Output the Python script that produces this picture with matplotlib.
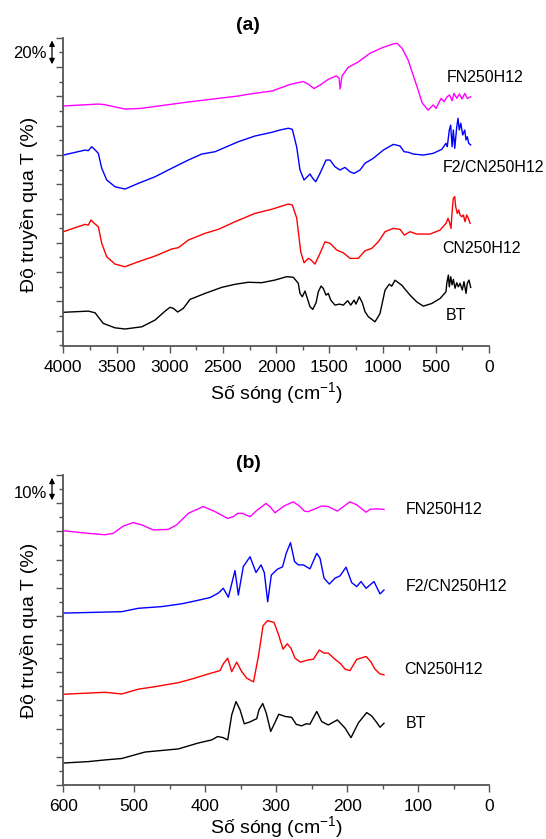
import numpy as np
import matplotlib
matplotlib.use("Agg")
import matplotlib.pyplot as plt
from matplotlib.ticker import MultipleLocator

plt.rcParams['font.family'] = ['Liberation Sans', 'DejaVu Sans']
plt.rcParams['mathtext.default'] = 'regular'

# ---- (a) FTIR, 4000-150 cm-1 (offset transmittance, arbitrary units) ----
a_fn_x = [4000, 3674, 3618, 3420, 3279, 2828, 2358, 2245, 2039, 1870, 1747, 1700, 1644, 1587,
          1512, 1437, 1409, 1399, 1381, 1324, 1230, 1118, 995, 901, 864, 817, 760, 713, 666,
          629, 572, 525, 497, 450, 422, 394, 370, 347, 329, 303, 279, 253, 228, 204, 172]
a_fn_y = [153.4, 154.7, 154.4, 151.3, 151.7, 156.1, 160.2, 161.6, 163.6, 168.1, 170.1, 168.4,
          165.3, 167.7, 171.5, 173.9, 172.5, 165.0, 173.9, 179.7, 183.4, 189.4, 193.4, 195.7,
          196.2, 192.8, 184.8, 174.5, 164.3, 155.6, 150.6, 154.1, 151.8, 158.6, 156.3, 159.7,
          160.9, 157.0, 162.0, 158.6, 161.6, 158.2, 162.0, 158.5, 159.7]

a_f2_x = [4000, 3796, 3765, 3733, 3709, 3671, 3639, 3592, 3514, 3420, 3295, 3138, 2981, 2825,
          2699, 2574, 2356, 2199, 2042, 1964, 1886, 1848, 1807, 1776, 1738, 1707, 1682, 1656,
          1628, 1588, 1531, 1494, 1447, 1400, 1353, 1306, 1268, 1212, 1165, 1087, 993, 899,
          836, 798, 758, 711, 617, 523, 444, 404, 392, 373, 360, 347, 335, 322, 303, 291, 279,
          265, 247, 228, 216, 204, 190, 172]
a_f2_y = [119.9, 123.3, 122.9, 125.6, 124.0, 121.1, 110.9, 102.9, 98.3, 96.7, 100.6, 105.1,
          110.9, 116.5, 120.6, 122.2, 129.0, 132.9, 135.4, 137.0, 138.2, 137.5, 125.4, 109.7,
          102.9, 105.1, 107.0, 104.0, 101.7, 107.4, 116.5, 116.5, 111.9, 109.7, 111.5, 108.5,
          107.4, 109.7, 114.3, 117.7, 123.3, 127.2, 126.1, 122.2, 121.8, 120.6, 119.9, 121.1,
          123.8, 127.9, 125.6, 137.0, 140.4, 125.6, 137.0, 124.5, 139.2, 145.0, 137.0, 141.6,
          133.6, 137.0, 130.2, 132.4, 127.9, 126.8]

a_cn_x = [4000, 3796, 3765, 3740, 3709, 3671, 3639, 3592, 3514, 3420, 3295, 3138, 2981, 2919,
          2825, 2668, 2543, 2387, 2199, 2042, 1886, 1848, 1807, 1769, 1738, 1698, 1672, 1635,
          1588, 1541, 1494, 1431, 1369, 1306, 1228, 1165, 1102, 1040, 977, 899, 836, 796, 742,
          679, 554, 460, 404, 385, 373, 357, 347, 335, 322, 313, 298, 284, 272, 256, 241, 225,
          210, 194, 178]
a_cn_y = [67.6, 72.6, 72.1, 75.6, 73.3, 71.0, 59.7, 50.5, 45.5, 43.7, 47.1, 51.0, 55.8, 56.7,
          61.9, 66.5, 69.2, 74.4, 80.1, 82.9, 86.5, 85.8, 77.0, 53.9, 46.4, 49.4, 48.3, 45.5,
          52.8, 60.7, 59.7, 55.1, 53.2, 49.4, 49.4, 54.6, 56.2, 60.7, 67.6, 69.9, 69.2, 65.3,
          67.6, 66.0, 66.0, 68.7, 73.3, 76.7, 74.4, 69.9, 81.2, 90.4, 91.5, 84.6, 80.1, 82.4,
          79.0, 77.8, 79.0, 74.4, 79.0, 76.7, 73.3]

a_bt_x = [4000, 3765, 3702, 3624, 3514, 3420, 3263, 3138, 3044, 2997, 2966, 2925, 2872, 2809,
          2668, 2512, 2387, 2262, 2136, 2011, 1901, 1839, 1792, 1776, 1754, 1729, 1707, 1682,
          1656, 1625, 1604, 1578, 1557, 1531, 1510, 1487, 1447, 1406, 1369, 1328, 1299, 1268,
          1250, 1219, 1190, 1165, 1134, 1071, 1024, 977, 937, 914, 883, 820, 742, 679, 617,
          538, 460, 404, 397, 382, 373, 360, 347, 335, 319, 303, 288, 272, 251, 235, 216, 204,
          188, 172]
a_bt_y = [12.6, 13.4, 12.3, 5.0, 2.0, 1.2, 2.7, 7.3, 13.4, 16.0, 15.3, 12.8, 15.3, 21.4, 25.5,
          29.6, 31.7, 33.1, 32.8, 34.6, 36.9, 36.5, 32.4, 25.5, 23.2, 27.1, 22.1, 16.4, 14.6,
          19.1, 26.6, 30.5, 28.9, 24.3, 25.5, 20.9, 17.5, 18.2, 17.5, 20.5, 17.5, 20.9, 18.2,
          23.2, 19.1, 13.0, 9.6, 6.1, 11.8, 27.7, 31.8, 30.4, 34.5, 31.1, 24.3, 19.7, 16.8,
          18.6, 22.0, 26.6, 32.3, 38.0, 30.0, 36.9, 31.3, 35.1, 29.0, 32.8, 30.0, 32.4, 27.8,
          33.5, 25.5, 32.4, 34.6, 29.6]

# ---- (b) far-IR, 600-150 cm-1 ----
b_fn_x = [600, 564.8, 541.2, 529.5, 515.4, 501.3, 489.5, 473.1, 452.0, 440.2, 423.8, 402.7,
          386.2, 368.3, 360.4, 354.2, 347.7, 336.8, 327.4, 314.3, 308.7, 301.6, 288.9, 275.8,
          266.4, 260.3, 254.7, 235.8, 226.5, 213.8, 195.9, 186.4, 173.3, 167.7, 158.3, 148.0]
b_fn_y = [90.2, 89.3, 88.8, 89.3, 91.9, 93.1, 92.3, 90.5, 90.7, 92.3, 96.4, 98.8, 97.0, 94.6,
          95.2, 96.4, 96.4, 95.2, 97.4, 99.9, 98.8, 96.6, 99.0, 100.5, 98.8, 97.2, 97.0, 99.0,
          98.8, 97.2, 100.5, 99.4, 96.8, 97.8, 98.0, 97.8]

b_f2_x = [600, 517.7, 494.3, 461.3, 433.1, 414.4, 393.2, 381.5, 374.5, 367.4, 358.0, 353.3,
          346.3, 336.8, 328.4, 321.3, 316.7, 311.9, 306.8, 298.1, 291.0, 285.7, 279.8, 274.1,
          268.8, 261.7, 252.3, 242.8, 238.2, 232.5, 225.1, 217.0, 210.0, 201.5, 193.5, 186.4,
          180.4, 173.3, 162.1, 153.6, 148.0]
b_f2_y = [61.0, 61.5, 62.7, 63.3, 64.3, 65.3, 66.5, 68.1, 69.8, 66.6, 76.1, 67.4, 77.5, 81.0,
          75.4, 78.1, 75.4, 65.0, 74.5, 76.6, 77.4, 82.3, 86.0, 79.3, 78.1, 78.1, 76.7, 82.2,
          80.5, 73.4, 71.3, 73.4, 74.2, 77.3, 71.8, 70.4, 72.2, 69.8, 72.2, 67.8, 69.2]

b_cn_x = [600, 541.2, 517.7, 494.3, 470.7, 437.9, 419.0, 395.6, 379.1, 374.5, 368.3, 362.6,
          355.6, 348.5, 341.5, 331.9, 324.9, 318.5, 312.2, 303.0, 296.7, 290.3, 284.3, 279.1,
          273.4, 265.7, 254.7, 247.6, 239.2, 232.5, 226.5, 217.0, 209.0, 202.9, 195.9, 186.4,
          173.3, 166.7, 160.7, 153.6, 148.0]
b_cn_y = [32.2, 32.9, 32.3, 34.0, 34.9, 36.3, 37.6, 39.4, 40.6, 43.0, 45.0, 40.2, 43.6, 40.2,
          37.9, 36.6, 45.8, 56.5, 58.3, 57.7, 53.4, 48.2, 50.1, 48.5, 45.0, 43.6, 44.4, 44.6,
          47.9, 46.8, 46.8, 44.6, 43.0, 41.1, 40.6, 44.6, 45.6, 43.8, 41.1, 39.4, 39.1]

b_bt_x = [600, 564.8, 541.2, 517.7, 484.8, 437.9, 409.7, 390.8, 382.4, 374.5, 368.3, 362.6,
          356.6, 350.9, 344.9, 336.8, 331.2, 327.4, 324.2, 318.9, 313.9, 307.7, 302.0, 296.3,
          286.8, 278.1, 271.6, 264.0, 257.9, 252.3, 242.8, 235.8, 226.5, 213.8, 202.9, 194.5,
          184.2, 172.4, 165.3, 158.3, 153.6, 148.0]
b_bt_y = [7.8, 8.3, 8.9, 9.4, 11.7, 12.8, 14.9, 16.0, 17.2, 16.8, 16.0, 24.9, 29.6, 26.7, 21.7,
          22.4, 23.1, 23.5, 26.7, 28.9, 25.5, 19.0, 22.0, 25.1, 24.3, 24.0, 21.5, 21.0, 21.7,
          21.6, 26.1, 22.5, 21.3, 23.1, 20.2, 16.8, 22.0, 25.7, 24.5, 22.2, 20.5, 21.9]

names = ['FN250H12', 'F2/CN250H12', 'CN250H12', 'BT']
colors = ['#FF00FF', '#0000FF', '#FF0000', '#000000']

fig = plt.figure(figsize=(5.46, 8.39), dpi=100)
W, H = 546.0, 839.0

def setup(ax, xmax, xmaj, xmin, ylim, ymaj, ymin, lpad):
    ax.set_xlim(xmax, 0)
    ax.set_ylim(*ylim)
    ax.xaxis.set_major_locator(MultipleLocator(xmaj))
    ax.xaxis.set_minor_locator(MultipleLocator(xmin))
    ax.yaxis.set_major_locator(MultipleLocator(ymaj))
    ax.yaxis.set_minor_locator(MultipleLocator(ymin))
    for s in ['top', 'right']:
        ax.spines[s].set_visible(False)
    for s in ['left', 'bottom']:
        ax.spines[s].set_color('#555555')
        ax.spines[s].set_linewidth(1.3)
    ax.tick_params(which='major', direction='out', length=5, width=1, color='#555555',
                   labelsize=12.5, pad=5)
    ax.tick_params(which='minor', direction='out', length=3, width=1, color='#555555')
    ax.tick_params(axis='y', which='major', labelleft=False)
    ax.set_xlabel('Số sóng (cm$^{-1}$)', fontsize=14, labelpad=lpad)
    ax.set_ylabel('Độ truyền qua T (%)', fontsize=14)

# panel (a)
ax1 = fig.add_axes([63.3 / W, 1 - 346 / H, 425.7 / W, 308.3 / H])
setup(ax1, 4000, 500, 250, (-10.4, 200), 20, 10, 4)
for x, y, c in zip([a_fn_x, a_f2_x, a_cn_x, a_bt_x], [a_fn_y, a_f2_y, a_cn_y, a_bt_y], colors):
    ax1.plot(x, y, color=c, lw=1.0)
a_lab_x = [394, 432, 441, 404]
a_lab_y = [172.5, 111.7, 56.4, 10.7]
for n, lx, ly in zip(names, a_lab_x, a_lab_y):
    ax1.text(lx, ly, n, fontsize=11.5, ha='left', va='center')
ax1.yaxis.set_label_coords(-0.06, 0.46)

# panel (b)
ax2 = fig.add_axes([63.3 / W, 1 - 785 / H, 425.7 / W, 310 / H])
setup(ax2, 600, 100, 50, (0, 110), 10, 5, 0)
for x, y, c in zip([b_fn_x, b_f2_x, b_cn_x, b_bt_x], [b_fn_y, b_f2_y, b_cn_y, b_bt_y], colors):
    ax2.plot(x, y, color=c, lw=1.0)
b_lab_x = [117, 117, 120, 117]
b_lab_y = [97.6, 70.6, 40.9, 21.7]
for n, lx, ly in zip(names, b_lab_x, b_lab_y):
    ax2.text(lx, ly, n, fontsize=11.5, ha='left', va='center')
ax2.yaxis.set_label_coords(-0.06, 0.5)

# panel titles
fig.text(248 / W, 1 - 25 / H, '(a)', fontsize=14, fontweight='bold', ha='center', va='center')
fig.text(248 / W, 1 - 463 / H, '(b)', fontsize=14, fontweight='bold', ha='center', va='center')

# scale bars
for top, bot, lab, ty in [(37.7, 67.0, '20%', 53), (475, 503, '10%', 493)]:
    fig.patches.append(matplotlib.patches.FancyArrowPatch(
        (52 / W, 1 - top / H), (52 / W, 1 - bot / H), transform=fig.transFigure,
        arrowstyle='<|-|>', mutation_scale=8, color='black', lw=0.9))
    fig.text(47 / W, 1 - ty / H, lab, fontsize=12, ha='right', va='center')

fig.savefig('out.png', dpi=100)
